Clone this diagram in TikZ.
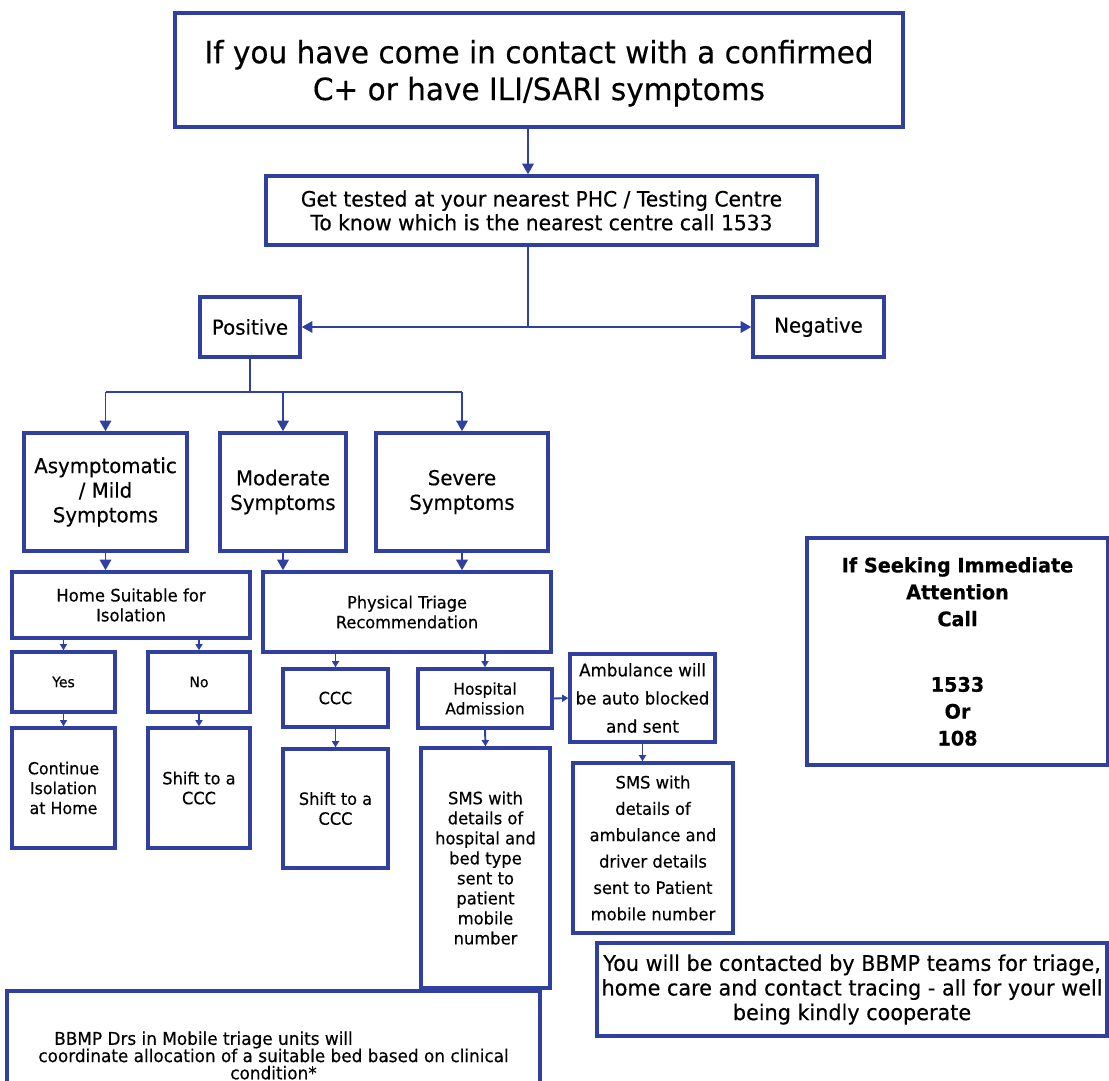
\documentclass[tikz,border=0pt]{standalone}
\usepackage{fontspec}
\setmainfont{DejaVu Sans}[FakeStretch=0.96,FakeBold=0.4]
\usetikzlibrary{arrows.meta}
\definecolor{flowblue}{RGB}{48,64,160}
\tikzset{
  box/.style={draw=flowblue,line width=2pt,fill=white,align=center,inner sep=2pt},
  flowline/.style={draw=flowblue,line width=1.1pt},
  flowarrow/.style={flowline,-{Triangle[length=6pt,width=6.5pt]}},
  tinyarrow/.style={flowline,-{Triangle[length=3.5pt,width=4pt]}}
}
\begin{document}
\begin{tikzpicture}[x=0.02cm,y=-0.02cm]
\useasboundingbox (0,0) rectangle (1109,1081);
% top of the chart
\node[box,minimum width=14.56cm,minimum height=2.28cm,text depth=-6pt,font=\fontsize{17.5}{21}\selectfont] (contact) at (539,70) {If you have come in contact with a confirmed\\C+ or have ILI/SARI symptoms};
\node[box,minimum width=11.02cm,minimum height=1.38cm,font=\fontsize{12}{13.5}\selectfont] (test) at (541.5,210.5) {Get tested at your nearest PHC / Testing Centre\\To know which is the nearest centre call 1533};
\node[box,minimum width=2cm,minimum height=1.2cm,font=\fontsize{11.7}{13}\selectfont] (pos) at (250,327) {Positive};
\node[box,minimum width=2.62cm,minimum height=1.2cm,font=\fontsize{11.7}{13}\selectfont] (neg) at (818.5,327) {Negative};
\coordinate (spine) at (528,0);
\coordinate (bus) at (0,392);
% symptoms
\node[box,minimum width=3.26cm,minimum height=2.36cm,font=\fontsize{11.7}{14}\selectfont] (asym) at (105.5,492) {Asymptomatic\\/ Mild\\Symptoms};
\node[box,minimum width=2.52cm,minimum height=2.36cm,font=\fontsize{11.7}{14}\selectfont] (mod) at (283,492) {Moderate\\Symptoms};
\node[box,minimum width=3.44cm,minimum height=2.36cm,font=\fontsize{11.7}{14}\selectfont] (sev) at (462,492) {Severe\\Symptoms};
% home branch
\node[box,minimum width=4.76cm,minimum height=1.32cm,font=\fontsize{9.8}{11.3}\selectfont] (home) at (131,605) {Home Suitable for\\Isolation};
\node[box,minimum width=2.06cm,minimum height=1.2cm,font=\fontsize{8.3}{10}\selectfont] (yes) at (63.5,682) {Yes};
\node[box,minimum width=2.04cm,minimum height=1.2cm,font=\fontsize{8.3}{10}\selectfont] (no) at (199,682) {No};
\node[box,minimum width=2.06cm,minimum height=2.4cm,font=\fontsize{9.4}{11.3}\selectfont] (stay) at (63.5,788) {Continue\\Isolation\\at Home};
\node[box,minimum width=2.04cm,minimum height=2.4cm,font=\fontsize{9.6}{11.3}\selectfont] (shiftno) at (199,788) {Shift to a\\CCC};
% triage branch
\node[box,minimum width=5.76cm,minimum height=1.6cm,font=\fontsize{9.6}{11.3}\selectfont] (triage) at (407,612) {Physical Triage\\Recommendation};
\node[box,minimum width=2.1cm,minimum height=1.16cm,font=\fontsize{9.5}{11.3}\selectfont] (ccc) at (335.5,698) {CCC};
\node[box,minimum width=2.1cm,minimum height=2.38cm,font=\fontsize{9.6}{11.3}\selectfont] (shiftccc) at (335.5,808.5) {Shift to a\\CCC};
\node[box,minimum width=2.68cm,minimum height=1.18cm,font=\fontsize{9.2}{11.3}\selectfont] (hosp) at (485,698.5) {Hospital\\Admission};
\node[box,minimum width=2.9cm,minimum height=1.76cm,inner sep=1pt,font=\fontsize{9.9}{16}\selectfont] (amb) at (642.5,698) {Ambulance will\\be auto blocked\\and sent};
\node[box,minimum width=2.58cm,minimum height=4.8cm,font=\fontsize{9.7}{11.4}\selectfont] (smshosp) at (485.5,868) {SMS with\\details of\\hospital and\\bed type\\sent to\\patient\\mobile\\number};
\node[box,minimum width=3.2cm,minimum height=3.4cm,font=\fontsize{9.7}{15}\selectfont] (smsamb) at (653,848) {SMS with\\details of\\ambulance and\\driver details\\sent to Patient\\mobile number};
% side notes
\node[box,minimum width=6.02cm,minimum height=4.54cm,font=\bfseries\fontsize{11.4}{15.3}\selectfont] (seek) at (957.5,651.5) {If Seeking Immediate\\Attention\\Call\\[22pt]1533\\Or\\108};
\node[box,minimum width=10.2cm,minimum height=1.86cm,font=\fontsize{12.3}{14}\selectfont] (teams) at (852,989.5) {You will be contacted by BBMP teams for triage,\\home care and contact tracing - all for your well\\being kindly cooperate};
\node[box,minimum width=10.66cm,minimum height=2.58cm,font=\fontsize{10}{9.8}\selectfont] (mobile) at (273.5,1055.5) {BBMP Drs in Mobile triage units will\hspace*{2.8cm}\\coordinate allocation of a suitable bed based on clinical\\condition*};
% connectors
\draw[flowarrow] (contact.south -| spine) -- (test.north -| spine);
\draw[flowarrow] (test.south -| spine) |- (pos.east);
\draw[flowarrow] (spine |- neg.west) -- (neg.west);
\draw[flowline] (pos.south) -- (pos.south |- bus);
\draw[flowline] (asym.north |- bus) -- (sev.north |- bus);
\draw[flowarrow] (asym.north |- bus) -- (asym.north);
\draw[flowarrow] (mod.north |- bus) -- (mod.north);
\draw[flowarrow] (sev.north |- bus) -- (sev.north);
\draw[flowarrow] (asym.south) -- (asym.south |- home.north);
\draw[flowarrow] (mod.south) -- (mod.south |- triage.north);
\draw[flowarrow] (sev.south) -- (sev.south |- triage.north);
\draw[tinyarrow] (yes.north |- home.south) -- (yes.north);
\draw[tinyarrow] (no.north |- home.south) -- (no.north);
\draw[tinyarrow] (yes.south) -- (stay.north);
\draw[tinyarrow] (no.south) -- (shiftno.north);
\draw[tinyarrow] (ccc.north |- triage.south) -- (ccc.north);
\draw[tinyarrow] (hosp.north |- triage.south) -- (hosp.north);
\draw[tinyarrow] (ccc.south) -- (shiftccc.north);
\draw[tinyarrow] (hosp.south) -- (smshosp.north);
\draw[tinyarrow] (hosp.east) -- (amb.west);
\draw[tinyarrow] (amb.south) -- (amb.south |- smsamb.north);
\end{tikzpicture}
\end{document}
